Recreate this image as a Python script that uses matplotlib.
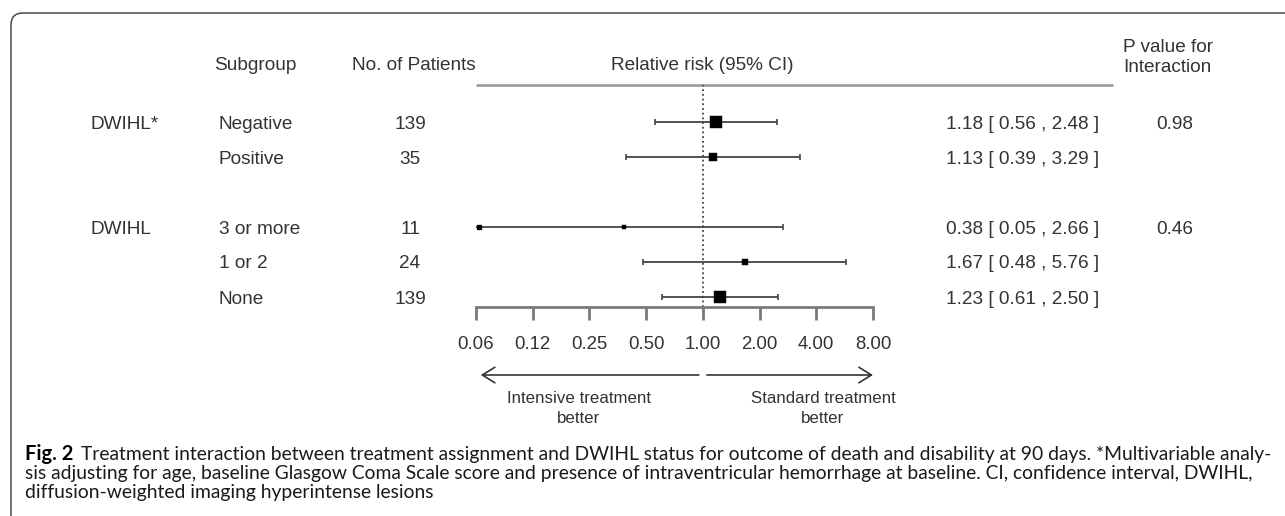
import numpy as np
import matplotlib
matplotlib.use("Agg")
import matplotlib.pyplot as plt
import matplotlib.transforms as mtransforms
from matplotlib.patches import FancyBboxPatch

# ---------------- data ----------------
groups = ["DWIHL*", "", "DWIHL", "", ""]
subgroups = ["Negative", "Positive", "3 or more", "1 or 2", "None"]
n_patients = [139, 35, 11, 24, 139]
rr = [1.18, 1.13, 0.38, 1.67, 1.23]
ci_low = [0.56, 0.39, 0.05, 0.48, 0.61]
ci_high = [2.48, 3.29, 2.66, 5.76, 2.50]
p_interaction = ["0.98", "", "0.46", "", ""]
tick_values = [0.0625, 0.125, 0.25, 0.5, 1.0, 2.0, 4.0, 8.0]
tick_labels = ["0.06", "0.12", "0.25", "0.50", "1.00", "2.00", "4.00", "8.00"]

caption_bold = "Fig. 2"
caption_lines = [
    "Treatment interaction between treatment assignment and DWIHL status for outcome of death and disability at 90 days. *Multivariable analy-",
    "sis adjusting for age, baseline Glasgow Coma Scale score and presence of intraventricular hemorrhage at baseline. CI, confidence interval, DWIHL,",
    "diffusion-weighted imaging hyperintense lesions",
]

# ---------------- layout ----------------
W, H = 1285, 516
DPI = 100
row_pos = [0, 1, 3, 4, 5]          # blank row between the two groups
ROW0_PX, ROW_STEP = 122, 35
HEAD_LINE_PX, AXIS_PX = 85, 307
X_LEFT_PX, X_RIGHT_PX = 476, 873

FONT = "Liberation Sans"
TXT = "#333333"
FS = 13.7

fig = plt.figure(figsize=(W / DPI, H / DPI), dpi=DPI)
fig.patch.set_facecolor("white")

# overlay axes in pixel coordinates for layout/text
ov = fig.add_axes([0, 0, 1, 1], zorder=0)
ov.set_xlim(0, W)
ov.set_ylim(H, 0)
ov.axis("off")

# forest axes
fax = fig.add_axes([X_LEFT_PX / W, (H - AXIS_PX) / H,
                    (X_RIGHT_PX - X_LEFT_PX) / W, (AXIS_PX - HEAD_LINE_PX) / H], zorder=2)
fax.patch.set_alpha(0)
fax.set_xscale("log", base=2)
fax.set_xlim(tick_values[0], tick_values[-1])
y_top = (HEAD_LINE_PX - ROW0_PX) / ROW_STEP
y_bot = (AXIS_PX - ROW0_PX) / ROW_STEP
fax.set_ylim(y_bot, y_top)
for s in ["top", "left", "right"]:
    fax.spines[s].set_visible(False)
fax.spines["bottom"].set_color("#7a7a7a")
fax.spines["bottom"].set_linewidth(2.0)
fax.set_yticks([])
fax.set_xticks(tick_values)
fax.set_xticklabels(tick_labels, fontfamily=FONT, fontsize=13.4, color=TXT)
fax.xaxis.set_minor_locator(matplotlib.ticker.NullLocator())
fax.tick_params(axis="x", direction="out", length=9.4, width=2.0, color="#7a7a7a", pad=11.5)

# reference line
fax.axvline(1.0, color="#444444", lw=1.3, ls=(0, (1, 1.6)), zorder=1)

# CIs and boxes
log_se = [(np.log(h) - np.log(l)) / 3.92 for l, h in zip(ci_low, ci_high)]
max_w = max(1 / s for s in log_se)
xmin, xmax = fax.get_xlim()
for y, r, lo, hi, se in zip(row_pos, rr, ci_low, ci_high, log_se):
    lo_c = max(lo, xmin)
    hi_c = min(hi, xmax)
    fax.hlines(y, lo_c, hi_c, color="#444444", lw=1.3, zorder=2)
    if lo >= xmin:
        fax.plot([lo], [y], marker="|", ms=4.5, mew=1.2, color="#444444", zorder=2)
    else:
        fax.plot([lo_c * 1.04], [y], marker="s", ms=3.0, color="black", zorder=3)
    if hi <= xmax:
        fax.plot([hi], [y], marker="|", ms=4.5, mew=1.2, color="#444444", zorder=2)
    side_px = 12.0 * (1 / se) / max_w
    fax.plot([r], [y], marker="s", ms=side_px * 72 / DPI, color="black", mec="black", mew=0.3, zorder=4)

# row text (x in pixels, y in forest row units)
rowT = mtransforms.blended_transform_factory(ov.transData, fax.transData)
for y, g, sg, n, r, lo, hi, p in zip(row_pos, groups, subgroups, n_patients, rr, ci_low, ci_high, p_interaction):
    kw = dict(transform=rowT, fontfamily=FONT, fontsize=FS, color=TXT, va="center_baseline")
    if g:
        fax.text(90, y, g, ha="left", **kw)
    fax.text(219, y, sg, ha="left", **kw)
    fax.text(410, y, str(n), ha="center", **kw)
    fax.text(1099, y, f"{r:.2f} [ {lo:.2f} , {hi:.2f} ]", ha="right", **kw)
    if p:
        fax.text(1175, y, p, ha="center", **kw)

# headers
hkw = dict(fontfamily=FONT, fontsize=FS, color=TXT, va="center_baseline")
ov.text(214, 64, "Subgroup", ha="left", **hkw)
ov.text(414, 64, "No. of Patients", ha="center", **hkw)
ov.text(702, 64, "Relative risk (95% CI)", ha="center", **hkw)
ov.text(1123, 45, "P value for", ha="left", **hkw)
ov.text(1123, 65, "Interaction", ha="left", **hkw)
ov.plot([X_LEFT_PX, 1113], [HEAD_LINE_PX, HEAD_LINE_PX], color="#9a9a9a", lw=1.9,
        solid_capstyle="butt")

# direction arrows under axis
arrT = mtransforms.blended_transform_factory(fax.transData, ov.transData)
akw = dict(arrowstyle="->,head_length=0.45,head_width=0.28", color="#333333", lw=1.2,
           mutation_scale=20, shrinkA=0, shrinkB=0)
fax.annotate("", xy=(xmin * 1.06, 375), xytext=(0.952, 375), xycoords=arrT,
             textcoords=arrT, arrowprops=akw, annotation_clip=False)
fax.annotate("", xy=(xmax, 375), xytext=(1.05, 375), xycoords=arrT,
             textcoords=arrT, arrowprops=akw, annotation_clip=False)
lkw = dict(fontfamily=FONT, fontsize=12.2, color=TXT, va="center_baseline", ha="center")
ov.text(579, 397, "Intensive treatment", **lkw)
ov.text(579, 417, "better", **lkw)
ov.text(823, 397, "Standard treatment", **lkw)
ov.text(823, 417, "better", **lkw)

# rounded frame (open to the right/bottom)
frame = FancyBboxPatch((11, 13), W + 40, H + 40,
                       boxstyle="round,pad=0,rounding_size=12",
                       fc="none", ec="#4a4a4a", lw=1.1, transform=ov.transData,
                       clip_on=False)
ov.add_patch(frame)

# caption
cap_family = "Lato"
cap_x0, cap_x1 = 25, 1273
baselines = [460, 479, 498]
s0 = 10.0
tb = ov.text(cap_x0, baselines[0], caption_bold, fontfamily=cap_family, fontweight="bold",
             fontsize=s0 * 1.05, color="black", va="baseline", ha="left")
tr = [ov.text(cap_x0, b, line, fontfamily=cap_family, fontweight="normal", fontsize=s0,
              color="#1a1a1a", va="baseline", ha="left")
      for b, line in zip(baselines, caption_lines)]
renderer = fig.canvas.get_renderer()
wb = tb.get_window_extent(renderer).width
wr = tr[0].get_window_extent(renderer).width
gap = 8
s = s0 * (cap_x1 - cap_x0 - gap) / (wb + wr)
tb.set_fontsize(s * 1.05)
for t in tr:
    t.set_fontsize(s)
wb = tb.get_window_extent(renderer).width
tr[0].set_x(cap_x0 + wb + gap)

fig.savefig("out.png", dpi=DPI, facecolor="white")
